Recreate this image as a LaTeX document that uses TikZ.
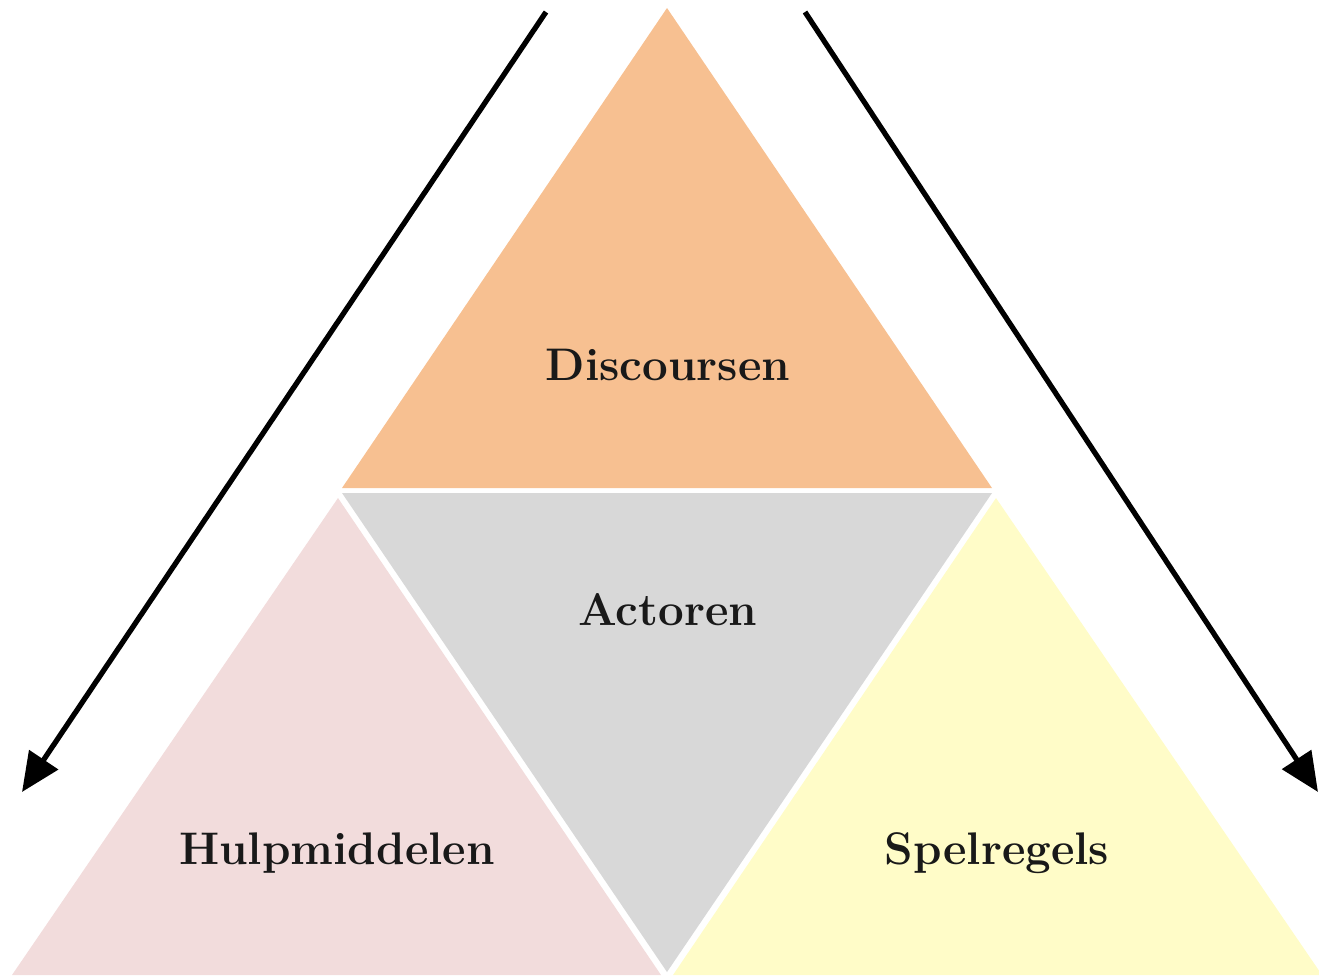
\documentclass[tikz,border=0pt]{standalone}
\usepackage{xcolor}
\usepackage{tikz}
\usetikzlibrary{arrows.meta}

\definecolor{discOrange}{RGB}{247,192,145}
\definecolor{actGray}{RGB}{216,216,216}
\definecolor{hulpPink}{RGB}{242,220,220}
\definecolor{spelYellow}{RGB}{255,252,200}

\tikzset{
  lbl/.style={font=\fontsize{26}{30}\selectfont\bfseries, text=black!90},
  flow/.style={line width=3pt, -{Triangle[length=0.78cm,width=0.68cm]}}
}

\begin{document}
\begin{tikzpicture}[x=0.02cm,y=-0.02cm]
    \useasboundingbox (0,0) rectangle (1319,975);
    % Discoursen (top)
    \fill[discOrange] (667,8) -- (342,488) -- (992,488) -- cycle;
    % Actoren (inverted, middle)
    \fill[actGray] (342,493) -- (992,493) -- (667,972) -- cycle;
    % Hulpmiddelen (left)
    \fill[hulpPink] (338,498) -- (12,975) -- (661,975) -- cycle;
    % Spelregels (right)
    \fill[spelYellow] (996,498) -- (673,975) -- (1322,975) -- cycle;
    % Labels
    \node[lbl] (disc) at (668,365) {Discoursen};
    \node[lbl] (act) at (668,610) {Actoren};
    \node[lbl] (hulp) at (337,853) {Hulpmiddelen};
    \node[lbl] (spel) at (997,853) {Spelregels};
    % Arrows
    \coordinate (lTop) at (546,12);
    \coordinate (lEnd) at (22,792);
    \coordinate (rTop) at (805,12);
    \coordinate (rEnd) at (1318,792);
    \draw[flow] (lTop) -- (lEnd);
    \draw[flow] (rTop) -- (rEnd);
\end{tikzpicture}
\end{document}
